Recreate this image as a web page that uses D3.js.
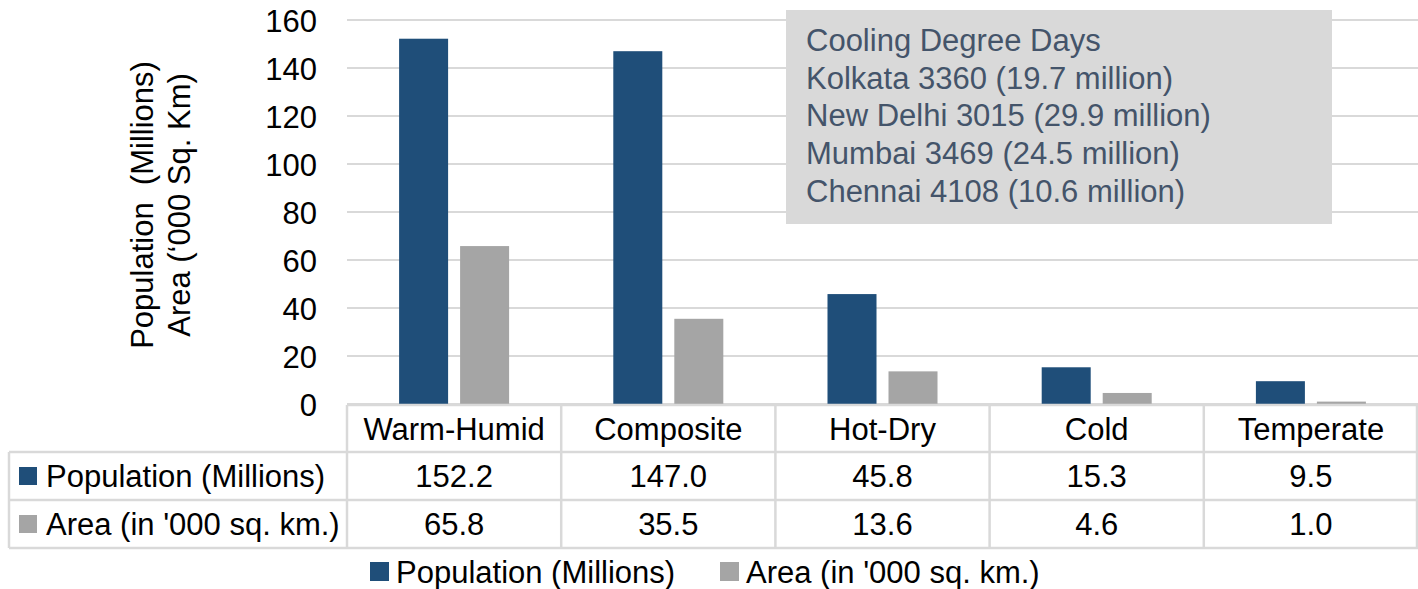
<!DOCTYPE html>
<html><head><meta charset="utf-8">
<script src="https://cdn.jsdelivr.net/npm/d3@7"></script>
<style>body{margin:0;background:#fff}svg{display:block;font-family:"Liberation Sans",Arial,sans-serif}</style>
</head><body><svg id="c" width="1418" height="589"></svg>
<script>
const categories = ["Warm-Humid","Composite","Hot-Dry","Cold","Temperate"];
const seriesNames = ["Population (Millions)","Area (in '000 sq. km.)"];
const population = [152.2,147.0,45.8,15.3,9.5];
const area = [65.8,35.5,13.6,4.6,1.0];
const yTicks = [0,20,40,60,80,100,120,140,160];
const axisTitle = ["Population  (Millions)","Area (\u2018000 Sq. Km)"];
const noteLines = ["Cooling Degree Days","Kolkata 3360 (19.7 million)","New Delhi 3015 (29.9 million)","Mumbai 3469 (24.5 million)","Chennai 4108 (10.6 million)"];

const colors = ["#1f4e79","#a5a5a5"];
const values = [population, area];
const FS = 31;
const svg = d3.select("#c");
const L = 347, R = 1418, T = 20, B = 404;
const x0 = d3.scaleBand().domain(categories).range([L,R]);
const x1 = d3.scaleBand().domain(seriesNames).range([0,x0.bandwidth()]).paddingInner(12/61).paddingOuter(0.854);
const y = d3.scaleLinear().domain([0,160]).range([B,T]);

// gridlines
svg.append("g").selectAll("line").data(yTicks).join("line")
  .attr("x1",L).attr("x2",R).attr("y1",d=>y(d)).attr("y2",d=>y(d))
  .attr("stroke","#d9d9d9").attr("stroke-width",2);

// y axis labels
const ya = svg.append("g").attr("transform",`translate(${L-30},0)`)
  .call(d3.axisLeft(y).tickValues(yTicks).tickSize(0).tickPadding(0));
ya.select(".domain").remove();
ya.selectAll("text").attr("font-size",FS).attr("fill","#000").attr("font-family","Liberation Sans").attr("dy","0.36em");

// axis title
const at = svg.append("text").attr("transform","translate(153,205) rotate(-90)")
  .attr("text-anchor","middle").attr("font-size",FS).attr("fill","#000");
at.append("tspan").attr("x",0).attr("dy",0).attr("xml:space","preserve").style("white-space","pre").text(axisTitle[0]);
at.append("tspan").attr("x",0).attr("dy",37).text(axisTitle[1]);

// bars
seriesNames.forEach((s,si)=>{
  svg.append("g").selectAll("rect").data(categories).join("rect")
    .attr("x",c=>x0(c)+x1(s)).attr("width",x1.bandwidth())
    .attr("y",(c,i)=>y(values[si][i])).attr("height",(c,i)=>B-y(values[si][i]))
    .attr("fill",colors[si]);
});

// annotation box
const nb = svg.append("g");
nb.append("rect").attr("x",786).attr("y",10).attr("width",546).attr("height",214).attr("fill","#d9d9d9");
nb.selectAll("text").data(noteLines).join("text")
  .attr("x",806).attr("y",(d,i)=>51+i*37.7).attr("font-size",FS).attr("fill","#44546a").text(d=>d);

// data table
const rows = [B+1, 452, 500, 548];
const tg = svg.append("g");
const gs = "#d9d9d9";
tg.append("line").attr("x1",L).attr("x2",R).attr("y1",rows[0]).attr("y2",rows[0]).attr("stroke",gs).attr("stroke-width",2.5);
[rows[1],rows[2],rows[3]].forEach(yy=>tg.append("line").attr("x1",9).attr("x2",R).attr("y1",yy).attr("y2",yy).attr("stroke",gs).attr("stroke-width",2.5));
tg.append("line").attr("x1",9).attr("x2",9).attr("y1",rows[1]).attr("y2",rows[3]).attr("stroke",gs).attr("stroke-width",2.5);
categories.forEach(c=>tg.append("line").attr("x1",x0(c)).attr("x2",x0(c)).attr("y1",rows[0]).attr("y2",rows[3]).attr("stroke",gs).attr("stroke-width",2.5));
tg.append("line").attr("x1",R-1).attr("x2",R-1).attr("y1",rows[0]).attr("y2",rows[3]).attr("stroke",gs).attr("stroke-width",2.5);
tg.selectAll("text.h").data(categories).join("text").attr("class","h")
  .attr("x",c=>x0(c)+x0.bandwidth()/2).attr("y",(rows[0]+rows[1])/2).attr("dy","0.36em")
  .attr("text-anchor","middle").attr("font-size",FS).attr("fill","#000").text(c=>c);
seriesNames.forEach((s,si)=>{
  const cy = (rows[si+1]+rows[si+2])/2;
  tg.append("rect").attr("x",19).attr("y",cy-9).attr("width",18).attr("height",18).attr("fill",colors[si]);
  tg.append("text").attr("x",46).attr("y",cy).attr("dy","0.36em").attr("font-size",FS).attr("fill","#000").text(s);
  tg.selectAll("text.v"+si).data(categories).join("text").attr("class","v"+si)
    .attr("x",c=>x0(c)+x0.bandwidth()/2).attr("y",cy).attr("dy","0.36em")
    .attr("text-anchor","middle").attr("font-size",FS).attr("fill","#000")
    .text((c,i)=>values[si][i].toFixed(1));
});

// legend
const lx = [370, 720];
seriesNames.forEach((s,si)=>{
  svg.append("rect").attr("x",lx[si]).attr("y",562).attr("width",19).attr("height",19).attr("fill",colors[si]);
  svg.append("text").attr("x",lx[si]+26).attr("y",572).attr("dy","0.36em").attr("font-size",FS).attr("fill","#000").text(s);
});
</script></body></html>
